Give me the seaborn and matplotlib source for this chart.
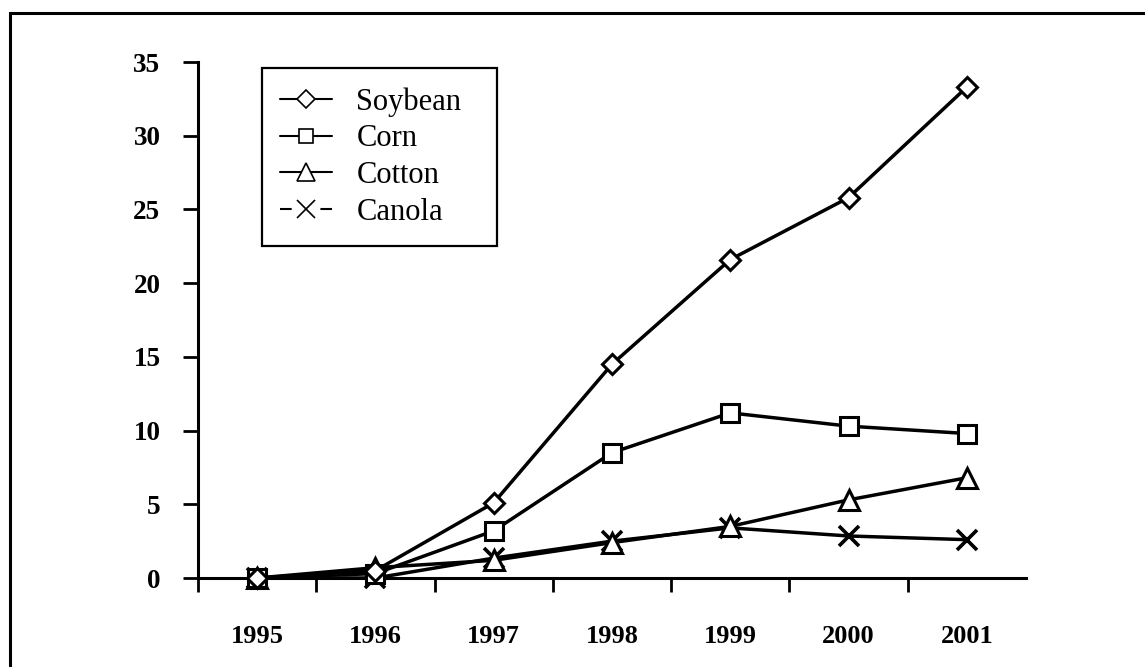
import numpy as np
import pandas as pd
import matplotlib
matplotlib.use("Agg")
import matplotlib.pyplot as plt
import seaborn as sns
from matplotlib.lines import Line2D
from matplotlib.patches import Rectangle

years = ["1995", "1996", "1997", "1998", "1999", "2000", "2001"]
soybean = [0.0, 0.5, 5.1, 14.5, 21.6, 25.8, 33.3]
corn = [0.0, 0.3, 3.2, 8.5, 11.2, 10.3, 9.8]
cotton = [0.0, 0.7, 1.2, 2.4, 3.5, 5.3, 6.8]
canola = [0.0, 0.0, 1.35, 2.5, 3.4, 2.85, 2.6]
series_names = ["Soybean", "Corn", "Cotton", "Canola"]
series_values = [soybean, corn, cotton, canola]
markers = ["D", "s", "^", "x"]
msizes = [10.5, 13, 14.5, 14]
leg_msizes = [9, 10.5, 13, 13]

sns.set_theme(style="white")
plt.rcParams["font.family"] = ["Liberation Serif", "DejaVu Serif"]

fig = plt.figure(figsize=(11.45, 6.67), dpi=100)
ax = fig.add_axes([198 / 1145, 89 / 667, 828 / 1145, 516 / 667])

x = np.arange(len(years))
# draw in reverse so Soybean is on top
for name, vals, m, ms in reversed(list(zip(series_names, series_values, markers, msizes))):
    df = pd.DataFrame({"x": x, "y": vals})
    sns.lineplot(data=df, x="x", y="y", ax=ax, color="black", lw=2.5,
                 marker=m, markersize=ms, markerfacecolor="white",
                 markeredgecolor="black", markeredgewidth=2.2 if m != "x" else 2.6,
                 legend=False, clip_on=False, zorder=3)

ax.set_xlim(-0.5, 6.5)
ax.set_ylim(0, 35)
ax.set_xlabel("")
ax.set_ylabel("")
ax.set_xticks(x)
ax.set_xticklabels(years)
ax.set_xticks(np.arange(-0.5, 6.0, 1.0), minor=True)
ax.set_yticks(np.arange(0, 36, 5))
ax.tick_params(axis="x", which="major", length=0, pad=34, labelsize=19)
ax.tick_params(axis="x", which="minor", length=10, width=2, direction="out", bottom=True, color="black")
ax.tick_params(axis="y", which="major", length=11, width=2, direction="out", left=True, pad=16, labelsize=19.5, color="black")
for lab in ax.get_xticklabels() + ax.get_yticklabels():
    lab.set_fontweight("bold")
    lab.set_color("black")

for s in ["top", "right"]:
    ax.spines[s].set_visible(False)
for s in ["left", "bottom"]:
    ax.spines[s].set_linewidth(2.2)
    ax.spines[s].set_color("black")

handles = []
for m, ms in zip(markers, leg_msizes):
    ls = (0, (5.6, 13.8)) if m == "x" else "-"
    handles.append(Line2D([], [], color="black", lw=1.5, linestyle=ls, marker=m, markersize=ms,
                          markerfacecolor="white", markeredgecolor="black", markeredgewidth=1.2))
leg = ax.legend(handles, series_names, loc="upper left", bbox_to_anchor=(0.0773 + 18 / 828, 0.988 - 19 / 516),
                borderaxespad=0, frameon=False,
                fontsize=22, handlelength=1.7, handletextpad=0.8, labelspacing=0.25,
                borderpad=0.0)
for t in leg.get_texts():
    t.set_color("black")

# legend frame: box around the legend with Excel-like margins
fig.canvas.draw()
bb = leg.get_window_extent()
W, H = fig.bbox.width, fig.bbox.height
x0 = bb.x0 - 18
x1 = bb.x1 + 36
y0 = bb.y0 - 19
y1 = bb.y1 + 19
fig.patches.append(Rectangle((x0 / W, y0 / H), (x1 - x0) / W, (y1 - y0) / H,
                             transform=fig.transFigure, fill=False,
                             lw=1.6, edgecolor="black", figure=fig))

fig.patches.append(Rectangle((10 / 1145, -0.2), 1.2, 1 - 13 / 667 + 0.2,
                             transform=fig.transFigure, fill=False, lw=2.2,
                             edgecolor="black", figure=fig))

fig.savefig("out.png", dpi=100)
